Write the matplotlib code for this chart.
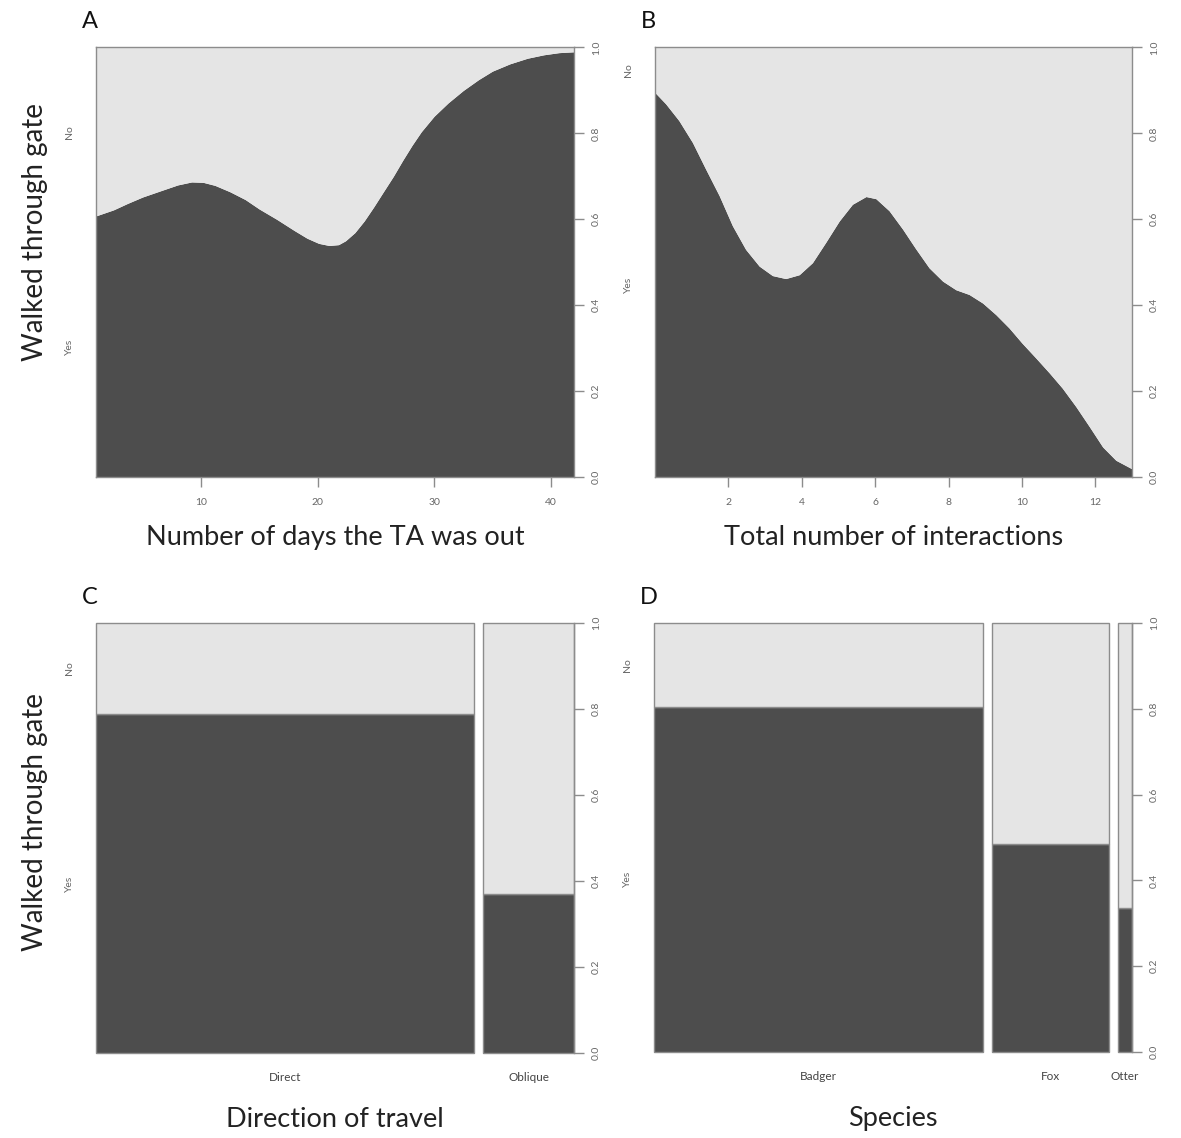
import numpy as np
import matplotlib.pyplot as plt
from matplotlib.transforms import blended_transform_factory

plt.rcParams['font.family'] = ['Lato', 'DejaVu Sans']

# A: proportion "Yes" against days the TA was out
days = [1, 2.5, 3.7, 5, 6.6, 8, 9.2, 10.2, 11.2, 12.5, 13.8, 15, 16.5, 18, 19.1, 20.1, 21, 21.8,
        22.4, 23.2, 24, 24.8, 25.6, 26.5, 27.3, 28.1, 28.9, 30, 31.2, 32.5, 33.8, 35, 36.5, 38, 39.4, 40.7, 42]
days_yes = [0.608, 0.622, 0.637, 0.652, 0.667, 0.680, 0.687, 0.686, 0.679, 0.664, 0.646, 0.624, 0.600,
            0.574, 0.556, 0.544, 0.539, 0.541, 0.550, 0.569, 0.596, 0.628, 0.662, 0.700, 0.737, 0.772,
            0.804, 0.840, 0.871, 0.900, 0.925, 0.945, 0.962, 0.975, 0.983, 0.988, 0.990]

# B: proportion "Yes" against total number of interactions
inter = [0, 0.29, 0.65, 1.02, 1.38, 1.75, 2.11, 2.47, 2.84, 3.2, 3.56, 3.93, 4.29, 4.65, 5.02,
         5.38, 5.75, 6.02, 6.38, 6.75, 7.1, 7.47, 7.84, 8.2, 8.56, 8.93, 9.29, 9.65, 10.0,
         10.38, 10.75, 11.1, 11.47, 11.84, 12.2, 12.56, 13]
inter_yes = [0.895, 0.869, 0.830, 0.779, 0.717, 0.655, 0.585, 0.530, 0.491, 0.469, 0.462, 0.471,
             0.499, 0.546, 0.596, 0.635, 0.653, 0.648, 0.620, 0.577, 0.532, 0.487, 0.456, 0.436,
             0.425, 0.405, 0.378, 0.347, 0.312, 0.277, 0.242, 0.207, 0.164, 0.117, 0.070, 0.039,
             0.019]

# C: direction of travel
direction = ['Direct', 'Oblique']
direction_w = [0.806, 0.194]
direction_yes = [0.788, 0.370]

# D: species
species = ['Badger', 'Fox', 'Otter']
species_w = [0.716, 0.253, 0.031]
species_yes = [0.805, 0.484, 0.336]

dark = '#4d4d4d'
light = '#e5e5e5'
edge = '#8c8c8c'
tickc = '#666666'

W, H = 1181, 1138
fig = plt.figure(figsize=(W / 100, H / 100), dpi=100)


def rect(l, r, t, b):
    return [l / W, 1 - b / H, (r - l) / W, (b - t) / H]


def right_axis(ax):
    ax.yaxis.tick_right()
    ax.set_ylim(0, 1)
    ax.set_yticks(np.arange(0, 1.01, 0.2))
    ax.set_yticklabels(['%.1f' % v for v in np.arange(0, 1.01, 0.2)], rotation=90, va='center')
    ax.tick_params(axis='y', direction='out', length=7, width=1, color=edge, labelsize=7.5,
                   labelcolor=tickc, pad=6)


def level_labels(ax, first):
    tr = blended_transform_factory(ax.transAxes, ax.transData)
    ax.text(-0.055, first / 2, 'Yes', transform=tr, rotation=90, ha='center', va='center',
            fontsize=7.5, color=tickc)
    ax.text(-0.055, (first + 1) / 2, 'No', transform=tr, rotation=90, ha='center', va='center',
            fontsize=7.5, color=tickc)


def cdplot(ax, x, y, ticks, xlabel):
    ax.fill_between(x, 0, y, color=dark, lw=0)
    ax.fill_between(x, y, 1, color=light, lw=0)
    ax.set_xlim(x[0], x[-1])
    right_axis(ax)
    ax.set_xticks(ticks)
    ax.tick_params(axis='x', direction='out', length=7, width=1, color=edge, labelsize=7.5,
                   labelcolor=tickc, pad=8)
    for s in ax.spines.values():
        s.set_color(edge)
        s.set_linewidth(1)
    level_labels(ax, y[0])
    ax.set_xlabel(xlabel, fontsize=19.5, color='#222222', labelpad=13)


def spineplot(ax, names, widths, yes, xlabel, gap=0.02):
    lefts = []
    pos = 0
    for w in widths:
        lefts.append(pos)
        pos += w + gap
    total = pos - gap
    no = [1 - v for v in yes]
    ax.bar(lefts, yes, width=widths, align='edge', color=dark, edgecolor=edge, lw=1, clip_on=False)
    ax.bar(lefts, no, bottom=yes, width=widths, align='edge', color=light, edgecolor=edge, lw=1,
           clip_on=False)
    ax.set_xlim(0, total)
    right_axis(ax)
    ax.set_xticks([l + w / 2 for l, w in zip(lefts, widths)])
    ax.set_xticklabels(names)
    ax.tick_params(axis='x', length=0, labelsize=8.5, labelcolor='#444444', pad=14)
    for k in ['top', 'bottom', 'left']:
        ax.spines[k].set_visible(False)
    ax.spines['right'].set_color(edge)
    ax.spines['right'].set_linewidth(1)
    level_labels(ax, yes[0])
    ax.set_xlabel(xlabel, fontsize=19.5, color='#222222', labelpad=17)


axA = fig.add_axes(rect(96, 574, 47.5, 477))
cdplot(axA, days, days_yes, [10, 20, 30, 40], 'Number of days the TA was out')
axB = fig.add_axes(rect(655, 1132, 47.5, 477))
cdplot(axB, inter, inter_yes, [2, 4, 6, 8, 10, 12], 'Total number of interactions')
axC = fig.add_axes(rect(96, 574, 623, 1053))
spineplot(axC, direction, direction_w, direction_yes, 'Direction of travel')
axD = fig.add_axes(rect(654, 1132, 623, 1052))
spineplot(axD, species, species_w, species_yes, 'Species')

for ax, letter in zip([axA, axB, axC, axD], 'ABCD'):
    ax.text(-0.03, 1.035, letter, transform=ax.transAxes, fontsize=17, color='#111111',
            ha='left', va='bottom')

fig.text(35 / W, 1 - 232 / H, 'Walked through gate', rotation=90, ha='center', va='center',
         fontsize=20, color='#222222')
fig.text(35 / W, 1 - 822 / H, 'Walked through gate', rotation=90, ha='center', va='center',
         fontsize=20, color='#222222')

fig.savefig('out.png', dpi=100, facecolor='white')
